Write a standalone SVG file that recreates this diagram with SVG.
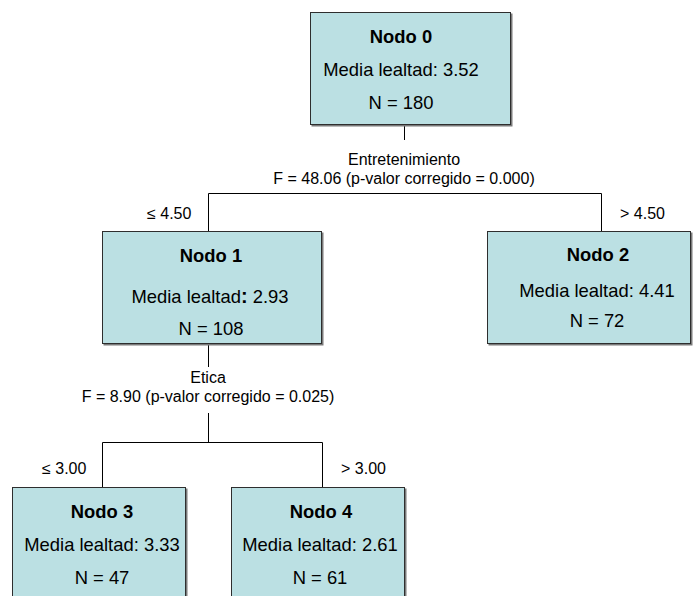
<svg xmlns="http://www.w3.org/2000/svg" width="694" height="596" viewBox="0 0 694 596">
  <style>
    .box { fill: #bbe0e3; stroke: #2e2e2e; stroke-width: 1; }
    .shadow { fill: #7a7a7a; }
    .title { font-family: "Liberation Sans", Arial, sans-serif; font-size: 18.4px; font-weight: bold; fill: #000; text-anchor: middle; }
    .val { font-family: "Liberation Sans", Arial, sans-serif; font-size: 18.4px; fill: #000; text-anchor: middle; }
    .lbl { font-family: "Liberation Sans", Arial, sans-serif; font-size: 16px; fill: #000; }
    .mid { text-anchor: middle; }
    .wire { fill: none; stroke: #000; stroke-width: 1; }
  </style>
  <rect width="694" height="596" fill="#fff"/>

  <!-- connectors and split labels -->
  <g id="connectors">
    <path class="wire" d="M404.5 125 V140"/>
    <path class="wire" d="M208.5 231 V193.5 H601.5 V231"/>
    <text class="lbl mid" x="404" y="165">Entretenimiento</text>
    <text class="lbl mid" x="404" y="184">F = 48.06 (p-valor corregido = 0.000)</text>
    <text class="lbl" x="147" y="219">≤ 4.50</text>
    <text class="lbl" x="620" y="219">&gt; 4.50</text>

    <path class="wire" d="M208.5 344 V367"/>
    <path class="wire" d="M208.5 413 V442.5"/>
    <path class="wire" d="M102.5 487 V442.5 H322.5 V487"/>
    <text class="lbl mid" x="208" y="383">Etica</text>
    <text class="lbl mid" x="208" y="402">F = 8.90 (p-valor corregido = 0.025)</text>
    <text class="lbl" x="42" y="474">≤ 3.00</text>
    <text class="lbl" x="341" y="474">&gt; 3.00</text>
  </g>

  <g id="nodo0">
    <rect class="shadow" x="311.5" y="13.5" width="201" height="113"/>
    <rect class="box" x="310.5" y="12.5" width="200" height="112"/>
    <text class="title" x="401" y="43">Nodo 0</text>
    <text class="val" x="401" y="76">Media lealtad: 3.52</text>
    <text class="val" x="401" y="109">N = 180</text>
  </g>

  <g id="nodo1">
    <rect class="shadow" x="103.5" y="232.5" width="220" height="113"/>
    <rect class="box" x="102.5" y="231.5" width="219" height="112"/>
    <text class="title" x="211" y="262">Nodo 1</text>
    <text class="val" x="210" y="303">Media lealtad<tspan font-weight="bold" font-size="20">:</tspan> 2.93</text>
    <text class="val" x="211" y="335">N = 108</text>
  </g>

  <g id="nodo2">
    <rect class="shadow" x="488.5" y="232.5" width="204" height="113"/>
    <rect class="box" x="487.5" y="231.5" width="203" height="112"/>
    <text class="title" x="598" y="261">Nodo 2</text>
    <text class="val" x="597" y="297">Media lealtad: 4.41</text>
    <text class="val" x="597" y="327">N = 72</text>
  </g>

  <g id="nodo3">
    <rect class="shadow" x="13.5" y="488.5" width="174" height="120"/>
    <rect class="box" x="12.5" y="487.5" width="173" height="120"/>
    <text class="title" x="102" y="518">Nodo 3</text>
    <text class="val" x="102" y="551">Media lealtad: 3.33</text>
    <text class="val" x="102" y="584">N = 47</text>
  </g>

  <g id="nodo4">
    <rect class="shadow" x="232.5" y="488.5" width="174" height="120"/>
    <rect class="box" x="231.5" y="487.5" width="173" height="120"/>
    <text class="title" x="321" y="518">Nodo 4</text>
    <text class="val" x="320" y="551">Media lealtad: 2.61</text>
    <text class="val" x="320" y="584">N = 61</text>
  </g>
</svg>
